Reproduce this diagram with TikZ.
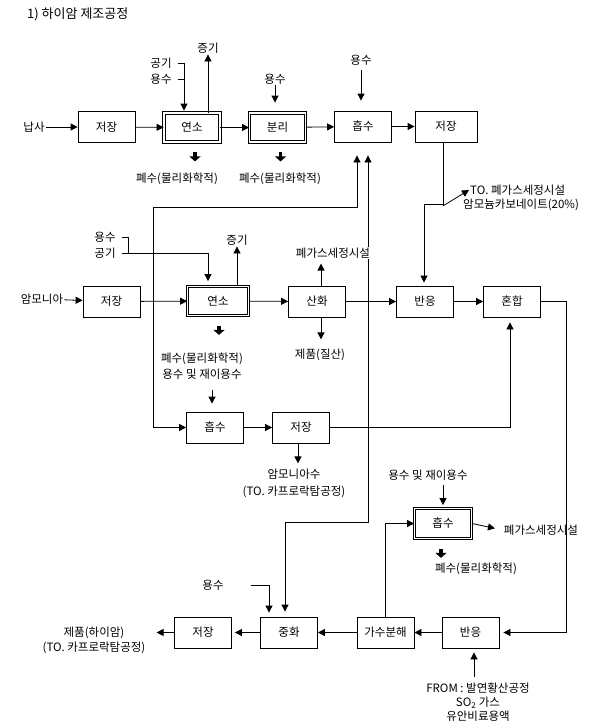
\documentclass[tikz,border=0pt]{standalone}
\usepackage{fontspec}
\setmainfont{Noto Sans CJK KR}
\usepackage{tikz}
\usetikzlibrary{arrows.meta,calc}

\tikzset{
  box/.style={draw,line width=0.8pt,minimum width=57pt,minimum height=31pt,inner sep=0pt},
  dbox/.style={box,double,double distance=1.5pt,minimum width=56pt,minimum height=29pt},
  lab/.style={inner sep=1pt,fill=white,align=center},
  arr/.style={line width=0.8pt,-{Triangle[length=7pt,width=7pt]}},
  dblarr/.style={line width=0.8pt,{Triangle[length=7pt,width=7pt]}-{Triangle[length=7pt,width=7pt]}},
  thkarr/.style={line width=3.5pt,-{Triangle[length=5pt,width=11pt]}}
}

\begin{document}
\begin{tikzpicture}[x=1pt,y=-1pt,font=\fontsize{11.5pt}{15pt}\selectfont]
\useasboundingbox[fill=white] (0,0) rectangle (589,725);
\node[anchor=west,inner sep=0pt,font=\fontsize{13pt}{15pt}\selectfont] (title) at (27,14) {1) 하이암 제조공정};
% first line
\node[box] (st1) at (106.5,127) {저장};
\node[dbox] (comb1) at (192,127.5) {연소};
\node[dbox] (sep) at (277.5,127.5) {분리};
\node[box] (abs1) at (363,126.5) {흡수};
\node[box,minimum width=62pt] (st2) at (446,126.5) {저장};
\node[lab] (naph) at (34,127) {납사};
\node[lab] (stm1) at (208,48) {증기};
\node[lab] (air1) at (161,63) {공기};
\node[lab] (wat1) at (161,79) {용수};
\node[lab] (wat2) at (275,79) {용수};
\node[lab] (wat3) at (361,60) {용수};
\node[lab] (ww1) at (177,179) {폐수(물리화학적)};
\node[lab] (ww2) at (280,179) {폐수(물리화학적)};
\node[lab,anchor=west] (toGas) at (469,190) {TO. 폐가스세정시설};
\node[lab,anchor=west] (amc) at (462,205) {암모늄카보네이트(20\%)};
\draw[arr] (naph) -- (st1);
\draw[arr] (st1) -- (comb1);
\draw[arr] (comb1) -- (sep);
\draw[arr] (sep) -- (abs1);
\draw[arr] (abs1) -- (st2);
\draw[arr] (comb1.north -| stm1) -- (stm1.south);
\coordinate (b1) at (184,63);
\draw[arr,shorten >=2pt] ([xshift=5pt]air1.east) -- (b1) -- (b1 |- comb1.north);
\draw[line width=0.8pt] ([xshift=5pt]wat1.east) -- (wat1.east -| b1);
\draw[arr,shorten >=10pt] (wat2.south) -- (wat2.south |- sep.north);
\draw[arr,shorten >=10pt,shorten <=4pt] (wat3.south) -- (wat3.south |- abs1.north);
\draw[thkarr] ($(comb1.south)+(3,10)$) -- ++(0,9);
\draw[thkarr] ($(sep.south)+(3,10)$) -- ++(0,9);
% second line
\node[box] (st3) at (111.5,301.5) {저장};
\node[dbox,minimum width=61pt] (comb2) at (218,301) {연소};
\node[box] (ox) at (317,301.5) {산화};
\node[box] (rx1) at (425,301.5) {반응};
\node[box] (mix) at (512,301.5) {혼합};
\node[box] (abs2) at (215,427.5) {흡수};
\node[box] (st4) at (301,427.5) {저장};
\node[lab] (amm) at (42,299) {암모니아};
\node[lab] (wat4) at (105,237) {용수};
\node[lab] (air2) at (105,253) {공기};
\node[lab] (stm2) at (237,240) {증기};
\node[lab] (ww3) at (202,366) {폐수(물리화학적)\\[1pt]용수 및 재이용수};
\node[lab] (prod1) at (320,355) {제품(질산)};
\node[lab] (amw) at (294,483.5) {암모니아수\\[2pt](TO. 카프로락탐공정)};
\draw[arr] (amm) -- (st3);
\draw[arr] (st3) -- (comb2);
\draw[arr] (comb2) -- (ox);
\draw[arr] (ox) -- (rx1);
\draw[arr] (rx1) -- (mix);
\draw[arr] (abs2) -- (st4);
\draw[arr] (comb2.north -| stm2) -- (stm2.south);
\coordinate (b2) at (128,254);
\draw[line width=0.8pt] ([xshift=5pt]wat4.east) -| (b2);
\draw[arr,shorten >=5pt] ([xshift=5pt]air2.east) -| ($(comb2.north)+(-10,0)$);
\draw[arr] ($(ox.south)+(4,0)$) -- ++(0,22);
\draw[thkarr] ($(comb2.south)+(1,10)$) -- ++(0,9);
\draw[arr] ($(abs2.north)+(-3,-22)$) -- ++(0,14);
\draw[arr,shorten >=5pt] (st4.east) -| ($(mix.south)+(-2,0)$);
\draw[arr] ($(st4.south)+(-3,0)$) -- ++(0,20);
\coordinate (s2) at (424,204);
\draw[arr,shorten >=3pt] ($(st2.south)+(-3,0)$) |- (s2) -- (s2 |- rx1.north);
\draw[arr] ($(st2.south)+(-3,63.5)$) -- (toGas.west);
% third line
\node[box] (neut) at (289,632.5) {중화};
\node[box] (st5) at (203,632.5) {저장};
\node[box] (hyd) at (385.5,632.5) {가수분해};
\node[box] (rx2) at (470.5,632.5) {반응};
\node[dbox,minimum width=57pt,minimum height=30pt] (abs3) at (443,523.5) {흡수};
\node[lab] (wat5) at (428,475) {용수 및 재이용수};
\node[lab] (gas2) at (541,530) {폐가스세정시설};
\node[lab] (ww4) at (476,569) {폐수(물리화학적)};
\node[lab] (wat6) at (213,585) {용수};
\node[lab] (prod2) at (94,640.5) {제품(하이암)\\(TO. 카프로락탐공정)};
\node[lab] (from) at (478,702) {FROM : 발연황산공정\\[-1pt]SO\textsubscript{2} 가스\\[-1pt]유안비료용액};
\coordinate (m1) at (566,301.5);
\draw[arr,shorten >=4pt] (mix.east) -- (m1) |- (rx2.east);
\draw[arr] (rx2) -- (hyd);
\draw[arr] (hyd) -- (neut);
\draw[arr,shorten >=3pt] (neut) -- (st5);
\draw[arr,shorten >=10pt] (st5.west) -- (prod2.east |- st5.west);
\draw[arr] (hyd.north) |- (abs3.west);
\draw[arr,shorten >=3pt,shorten <=4pt] (wat5.south -| abs3.north) -- (abs3.north);
\draw[arr,shorten >=8pt] (abs3.east) -- (gas2.west);
\draw[thkarr] ($(abs3.south)+(-2,10)$) -- ++(0,9);
\draw[arr,shorten >=4pt,shorten <=26pt] (wat6.east) -| ($(neut.north)+(-20,0)$);
\draw[arr] ($(rx2.south)+(3.5,29)$) -- ++(0,-25);
% loops round the first absorber
\coordinate (l1) at (153,207);
\coordinate (r1) at (285,522);
\draw[dblarr,shorten <=13pt] ($(abs1.south)+(-6,0)$) |- (l1) |- (abs2.west);
\draw[dblarr,shorten <=13pt,shorten >=5pt] ($(abs1.south)+(5,0)$) |- (r1) -- (r1 |- neut.north);
\node[lab] (gas1) at (333,253) {폐가스세정시설};
\draw[arr] ($(ox.north)+(4,0)$) -- ++(0,-22);
\end{tikzpicture}
\end{document}
